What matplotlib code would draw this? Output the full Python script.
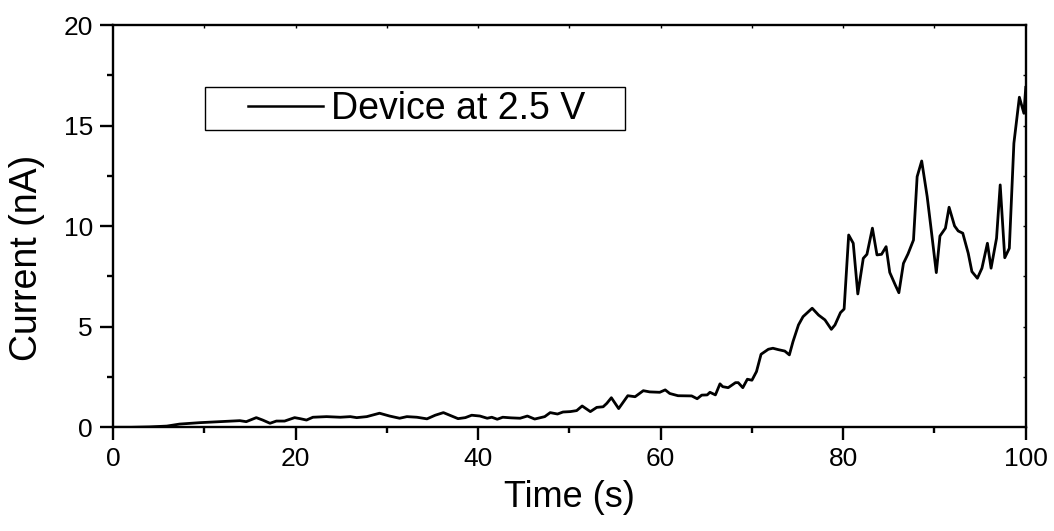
import matplotlib.pyplot as plt
from matplotlib.patches import Rectangle
from matplotlib.ticker import MultipleLocator

plt.rcParams["font.family"] = ["Liberation Sans", "DejaVu Sans"]

# time (s) and current (nA)
time = [
    0, 2, 4, 5.9, 7.3, 9.5, 11.7, 13.9, 14.6, 15.7,
    16.4, 17.2, 17.9, 18.8, 19.9, 20.5, 21.2, 21.9, 23.4, 24.9,
    26.0, 26.7, 27.8, 29.2, 30.3, 31.4, 32.2, 33.3, 34.4, 35.3,
    36.2, 37.1, 37.8, 38.6, 39.3, 40.2, 41.0, 41.5, 42.1, 42.7,
    43.6, 44.6, 45.4, 46.2, 47.3, 47.9, 48.7, 49.3, 50.1, 50.8,
    51.4, 52.3, 53.0, 53.7, 54.1, 54.6, 55.4, 56.4, 57.2, 58.1,
    58.8, 59.9, 60.5, 61.0, 61.9, 62.9, 63.4, 64.0, 64.5, 65.1,
    65.4, 66.0, 66.5, 66.8, 67.4, 68.2, 68.5, 69.0, 69.5, 70.0,
    70.5, 71.0, 71.8, 72.3, 72.9, 73.6, 74.1, 74.5, 75.1, 75.6,
    76.6, 77.3, 78.0, 78.7, 79.1, 79.7, 80.1, 80.6, 81.1, 81.6,
    82.2, 82.6, 83.2, 83.7, 84.2, 84.7, 85.1, 85.7, 86.1, 86.6,
    87.1, 87.7, 88.1, 88.6, 89.2, 89.6, 90.2, 90.6, 91.2, 91.6,
    92.2, 92.6, 93.1, 93.7, 94.1, 94.7, 95.2, 95.8, 96.2, 96.8,
    97.2, 97.7, 98.2, 98.7, 99.3, 99.8, 100,
]
current = [
    0, 0, 0.02, 0.06, 0.16, 0.23, 0.28, 0.33, 0.28, 0.48,
    0.36, 0.2, 0.31, 0.31, 0.48, 0.43, 0.36, 0.5, 0.53, 0.5,
    0.53, 0.48, 0.53, 0.7, 0.56, 0.45, 0.53, 0.5, 0.42, 0.6,
    0.73, 0.56, 0.43, 0.48, 0.6, 0.56, 0.45, 0.5, 0.4, 0.5,
    0.47, 0.45, 0.56, 0.41, 0.53, 0.73, 0.66, 0.76, 0.78, 0.83,
    1.06, 0.78, 0.99, 1.02, 1.19, 1.47, 0.93, 1.57, 1.52, 1.82,
    1.76, 1.74, 1.86, 1.68, 1.57, 1.56, 1.56, 1.42, 1.6, 1.61,
    1.74, 1.61, 2.16, 2.02, 1.97, 2.22, 2.22, 1.97, 2.39, 2.34,
    2.77, 3.63, 3.88, 3.93, 3.86, 3.79, 3.6, 4.26, 5.09, 5.5,
    5.92, 5.58, 5.34, 4.87, 5.09, 5.7, 5.88, 9.56, 9.15, 6.63,
    8.4, 8.6, 9.9, 8.57, 8.6, 8.98, 7.7, 7.08, 6.69, 8.15,
    8.62, 9.31, 12.46, 13.24, 11.47, 9.98, 7.69, 9.51, 9.9, 10.94,
    10.01, 9.76, 9.65, 8.65, 7.74, 7.41, 7.91, 9.15, 7.91, 9.4,
    12.05, 8.43, 8.9, 14.12, 16.41, 15.61, 16.9,
]
series_label = "Device at 2.5 V"

fig = plt.figure(figsize=(10.54, 5.31), dpi=100)
ax = fig.add_axes([0.1072, 0.1953, 0.8660, 0.7576])

ax.plot(time, current, color="black", lw=2.0, label=series_label)

ax.set_xlim(0, 100)
ax.set_ylim(0, 20)
ax.xaxis.set_major_locator(MultipleLocator(20))
ax.xaxis.set_minor_locator(MultipleLocator(10))
ax.yaxis.set_major_locator(MultipleLocator(5))
ax.yaxis.set_minor_locator(MultipleLocator(2.5))

for s in ax.spines.values():
    s.set_linewidth(1.7)
ax.tick_params(which="major", direction="out", length=9.5, width=1.7,
               labelsize=19, pad=5)
ax.tick_params(which="minor", direction="out", length=4.5, width=1.7)

# tiny inward ticks on the top and right frame
top = ax.secondary_xaxis("top")
top.set_xticks([10, 20, 30, 40, 50, 60, 70, 80, 90])
top.tick_params(direction="in", length=2, width=1, labeltop=False)
top.spines["top"].set_visible(False)
right = ax.secondary_yaxis("right")
right.set_yticks([2.5, 5, 7.5, 10, 12.5, 15, 17.5])
right.tick_params(direction="in", length=2, width=1, labelright=False)
right.spines["right"].set_visible(False)

ax.set_xlabel("Time (s)", fontsize=26, labelpad=6)
ax.set_ylabel("Current (nA)", fontsize=27, labelpad=10)
ax.yaxis.set_label_coords(-0.075, 0.42)

leg = ax.legend(loc="center left", bbox_to_anchor=(0.148, 0.792),
                frameon=False, fontsize=27, handlelength=2.0,
                handletextpad=0.2, borderpad=0, borderaxespad=0)
for h in leg.get_lines():
    h.set_linewidth(1.8)
ax.add_patch(Rectangle((0.1008, 0.739), 0.4602, 0.107, transform=ax.transAxes,
                       fill=False, edgecolor="black", lw=1.0, zorder=5))

fig.savefig("out.png", dpi=100)
